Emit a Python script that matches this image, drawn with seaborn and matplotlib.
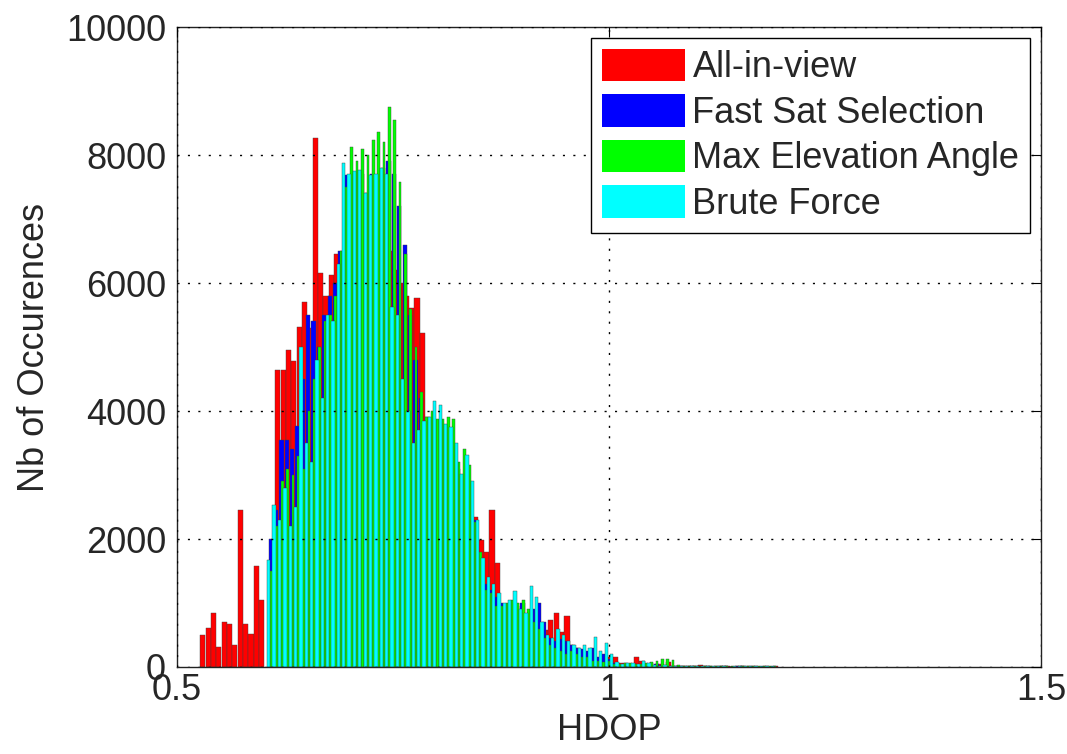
import numpy as np
import pandas as pd
import matplotlib
matplotlib.use("Agg")
import matplotlib.pyplot as plt
from matplotlib.patches import Patch
import seaborn as sns

# ---------------- data ----------------
bin_width = 0.0062

series_names = ["All-in-view", "Fast Sat Selection", "Max Elevation Angle", "Brute Force"]

red_start = 0.5266
red_counts = [500, 610, 840, 320, 700, 670, 350, 2450, 670, 520, 1580, 1050, 0, 0,
              4640, 4640, 4960, 4780, 5310, 5700, 5300, 8260, 6150, 5800, 6120, 6460, 6300, 6500,
              6800, 7000, 6900, 7100, 7000, 6900, 6700, 6500, 6200, 6000, 5800, 5610, 5770, 5220,
              3900, 3600, 3400, 3200, 3000, 2800, 2700, 2500, 2400, 2350, 1980, 1800, 2450, 1630,
              900, 750, 650, 550, 500, 450, 400, 350, 580, 740, 840, 550, 790, 350, 300, 250,
              200, 150, 120, 90, 160, 150, 60, 70, 40, 150, 90, 30, 20, 40, 30, 80, 20, 10,
              20, 20, 10, 30, 10, 0, 10, 20, 10, 0, 10, 10, 20, 10, 0, 10, 0, 10]

blue_start = 0.6053
blue_counts = [2000, 2460, 3550, 3540, 3400, 3770, 4500, 5500, 5400, 5000, 5500, 5800, 6000, 6500,
               7690, 7500, 7600, 7700, 7400, 7700, 7600, 7800, 7900, 7700, 7200, 6600, 5500, 4800,
               4200, 3500, 3700, 3800, 3700, 3600, 3400, 3100, 3000, 2900, 2300, 1500, 1300, 1200,
               1100, 1000, 950, 900, 950, 1000, 800, 900, 1000, 700, 450, 400, 430, 400, 350, 300,
               280, 250, 300, 150, 200, 120, 60, 40, 30, 50, 40, 30, 50, 60, 40, 30, 20, 20,
               10, 20, 10, 10, 20, 10, 10, 0, 10, 10, 0, 10, 10]

green_start = 0.6061
green_counts = [1500, 2200, 2900, 3100, 3000, 3300, 3100, 4000, 4500, 5000, 5400, 5500, 5800, 6500,
                7500, 8130, 7900, 8100, 8000, 8230, 8365, 8200, 8755, 8547, 7583, 6453, 5600, 5000,
                4300, 3900, 4000, 3870, 3880, 3910, 3880, 3200, 3400, 3156, 2270, 1800, 1200, 1150,
                950, 950, 1000, 1050, 1000, 1050, 900, 700, 600, 450, 350, 300, 250, 200, 250, 200,
                150, 150, 100, 100, 80, 90, 50, 50, 60, 60, 40, 50, 70, 80, 100, 125, 125, 110,
                30, 20, 20, 15, 10, 20, 10, 10, 20, 10, 10, 0, 10, 20, 10, 10, 20, 10, 10]

cyan_start = 0.6030
cyan_counts = [1670, 2530, 2300, 2800, 2200, 2500, 5000, 3500, 3200, 4800, 4200, 5500, 5400, 6300,
               7880, 7700, 7750, 7760, 7400, 7690, 7700, 7800, 7700, 5630, 5500, 4500, 4000, 3500,
               3700, 3850, 3910, 4150, 4100, 3800, 3750, 3500, 3010, 3310, 2900, 2300, 1700, 1400,
               1300, 1160, 1000, 1050, 1180, 900, 850, 1260, 1100, 700, 500, 450, 600, 500, 400,
               350, 300, 350, 300, 470, 250, 370, 200, 80, 50, 60, 60, 40, 90, 60, 30, 20, 30,
               20, 10, 20, 10, 10, 20, 10, 10, 20, 10, 10, 0, 10, 10, 20, 10, 10, 10, 10, 10]

series_starts = [red_start, blue_start, green_start, cyan_start]
series_counts = [red_counts, blue_counts, green_counts, cyan_counts]
series_colors = ["#ff0000", "#0000ff", "#00ff00", "#00ffff"]
series_shrink = [0.95, 0.8, 0.5, 0.62]

x_ticks = [0.5, 1.0, 1.5]
x_tick_labels = ["0.5", "1", "1.5"]
y_ticks = [0, 2000, 4000, 6000, 8000, 10000]

# ---------------- styling ----------------
sns.set_style("white")
plt.rcParams["font.family"] = ["Liberation Sans", "DejaVu Sans"]
FS = 26

fig = plt.figure(figsize=(10.67, 7.54), dpi=100)
ax = fig.add_axes([0.166, 0.1154, 0.8096, 0.8487])

for start, counts, color, shr in zip(series_starts, series_counts, series_colors, series_shrink):
    n = len(counts)
    edges = [float(v) for v in (start + bin_width * np.arange(n + 1))]
    centers = [(edges[i] + edges[i + 1]) / 2 for i in range(n)]
    df = pd.DataFrame({"hdop": centers, "count": [float(c) for c in counts]})
    sns.histplot(data=df, x="hdop", weights="count", bins=edges, ax=ax,
                 color=color, alpha=1.0, shrink=shr, edgecolor="#404040",
                 linewidth=0.3, stat="count", element="bars", fill=True)

ax.set_xlim(0.5, 1.5)
ax.set_ylim(0, 10000)
ax.set_xticks(x_ticks)
ax.set_xticklabels(x_tick_labels)
ax.set_yticks(y_ticks)
ax.set_xlabel("HDOP", fontsize=FS, labelpad=4)
ax.set_ylabel("Nb of Occurences", fontsize=FS, labelpad=10)
ax.tick_params(axis="both", which="major", labelsize=FS, direction="in",
               length=7, width=0.8, top=True, right=True, color="black")
ax.tick_params(axis="x", pad=4)
ax.tick_params(axis="y", pad=8)
ax.grid(True, color="black", linestyle=(0, (1.5, 6)), linewidth=1.0)
ax.set_axisbelow(False)
for sp in ax.spines.values():
    sp.set_visible(True)
    sp.set_color("#222222")
    sp.set_linewidth(1.0)

handles = [Patch(facecolor=c, edgecolor="none") for c in series_colors]
leg = ax.legend(handles, series_names, loc="upper right", fontsize=FS,
                frameon=True, fancybox=False, framealpha=1.0, edgecolor="black",
                borderaxespad=0.3, handlelength=2.3, handleheight=1.0,
                handletextpad=0.2, labelspacing=0.25, borderpad=0.3)
leg.get_frame().set_linewidth(1.0)

fig.savefig("out.png", dpi=100)
